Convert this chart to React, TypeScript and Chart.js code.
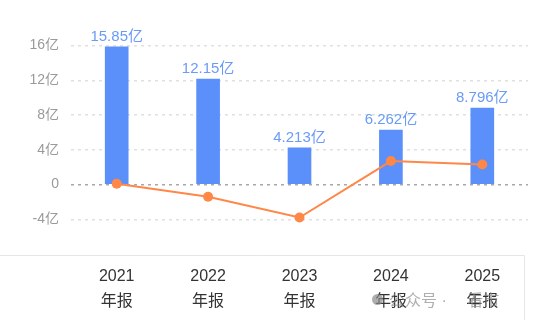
import React, { useEffect, useRef } from "react";
import { Chart, registerables } from "chart.js";

Chart.register(...registerables);

const categories = [["2021", "年报"], ["2022", "年报"], ["2023", "年报"], ["2024", "年报"], ["2025", "年报"]];
const barValues = [15.85, 12.15, 4.213, 6.262, 8.796];
const barLabels = ["15.85亿", "12.15亿", "4.213亿", "6.262亿", "8.796亿"];
const lineValues = [0.1, -1.4, -3.8, 2.7, 2.3];
const yTicks = [-4, 0, 4, 8, 12, 16];

const FONT = "'Helvetica Neue', Arial, 'Liberation Sans', 'Noto Sans CJK SC', sans-serif";

export default function App() {
  const ref = useRef<HTMLCanvasElement | null>(null);
  useEffect(() => {
    if (!ref.current) return;
    const labelPlugin = {
      id: "barLabels",
      afterDatasetsDraw(chart: any) {
        const ctx = chart.ctx;
        const meta = chart.getDatasetMeta(1);
        ctx.save();
        ctx.font = `15px ${FONT}`;
        ctx.fillStyle = "#6a9bf6";
        ctx.textAlign = "center";
        ctx.textBaseline = "bottom";
        meta.data.forEach((el: any, i: number) => {
          ctx.fillText(barLabels[i], el.x, el.y - 3);
        });
        ctx.restore();
      },
    };
    const framePlugin = {
      id: "frame",
      beforeDraw(chart: any) {
        const ctx = chart.ctx;
        const y = Math.round(chart.chartArea.bottom) + 1.5;
        const xr = chart.width - 11.5;
        ctx.save();
        ctx.strokeStyle = "#e6e6e6";
        ctx.lineWidth = 1;
        ctx.beginPath();
        ctx.moveTo(0, y);
        ctx.lineTo(xr, y);
        ctx.lineTo(xr, chart.height);
        ctx.stroke();
        ctx.restore();
      },
    };
    const chart = new Chart(ref.current, {
      type: "bar",
      data: {
        labels: categories,
        datasets: [
          {
            type: "line",
            data: lineValues,
            borderColor: "#ff8747",
            backgroundColor: "#ff8747",
            borderWidth: 2,
            pointRadius: 5,
            pointBackgroundColor: "#ff8747",
            pointBorderWidth: 0,
            order: 0,
          } as any,
          {
            type: "bar",
            data: barValues,
            backgroundColor: "#5b8ff9",
            barThickness: 23,
            order: 1,
          },
        ],
      },
      options: {
        animation: false,
        responsive: false,
        layout: { padding: { left: 0, right: 8, top: 0, bottom: 0 } },
        plugins: { legend: { display: false }, tooltip: { enabled: false } },
        scales: {
          x: {
            grid: { display: false, drawTicks: false },
            border: { display: false },
            ticks: {
              color: "#333",
              font: { size: 16, family: FONT, lineHeight: 1.5625 },
              padding: 10,
              maxRotation: 0,
            },
            afterFit: (s: any) => {
              s.height = 66;
            },
          },
          y: {
            min: -8,
            max: 18.9,
            afterBuildTicks: (scale: any) => {
              scale.ticks = yTicks.map((v) => ({ value: v }));
            },
            grid: {
              color: (c: any) => (c.tick && c.tick.value === 0 ? "#a8a8a8" : "#e0e0e0"),
              lineWidth: 1.5,
              drawTicks: false,
            },
            border: { display: false, dash: [3, 4] },
            ticks: {
              color: "#9a9a9a",
              font: { size: 14, family: FONT },
              padding: 12,
              callback: (v: any) => (v === 0 ? "0" : `${v}亿`),
            },
            afterFit: (s: any) => {
              s.width = 71;
            },
          },
        },
      },
      plugins: [labelPlugin, framePlugin],
    });
    return () => chart.destroy();
  }, []);
  return (
    <div style={{ position: "fixed", left: 0, top: 0, width: 536, height: 320, background: "#fff" }}>
      <canvas ref={ref} width={536} height={320} style={{ width: 536, height: 320 }} />
      <div
        style={{
          position: "absolute",
          left: 372,
          top: 287,
          fontFamily: FONT,
          fontSize: 16,
          color: "rgba(140,140,140,0.7)",
          whiteSpace: "nowrap",
          display: "flex",
          alignItems: "center",
        }}
      >
        <span
          style={{
            display: "inline-block",
            width: 11,
            height: 11,
            borderRadius: 6,
            background: "rgba(140,140,140,0.7)",
            marginRight: 6,
          }}
        />
        <span>公众号 · 　看市</span>
      </div>
    </div>
  );
}
